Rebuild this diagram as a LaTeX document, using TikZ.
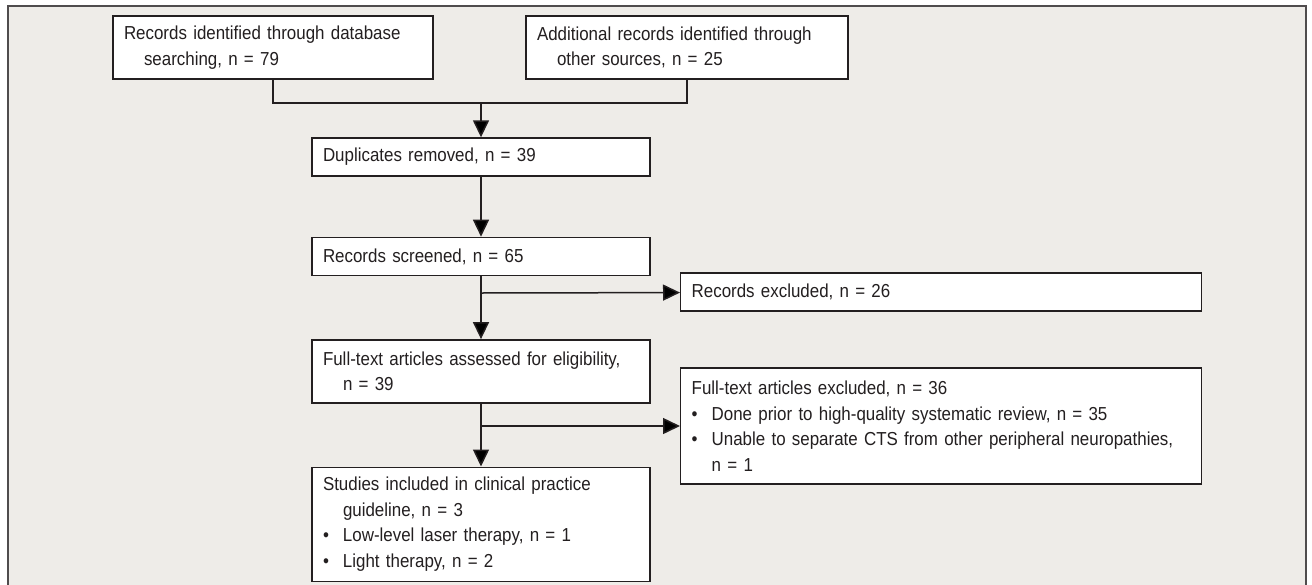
\documentclass[tikz,border=0pt]{standalone}
\usepackage{fontspec}
\setmainfont[FakeStretch=0.9]{Liberation Sans}
\usepackage{tikz}
\usetikzlibrary{arrows.meta,positioning}
\definecolor{panel}{RGB}{238,236,232}
\definecolor{ink}{RGB}{35,31,32}
\newcommand{\ind}{\hspace*{10pt}}
\newcommand{\itm}{\makebox[10pt][l]{\textbullet}}
\tikzset{
    >={Triangle[width=8pt,length=8.5pt]},
    font=\fontsize{9.4}{12.75}\selectfont,
    frame/.style={draw=ink!80, fill=panel, line width=0.8pt},
    box/.style={draw=ink, fill=white, text=ink, line width=0.7pt, align=left, inner xsep=5.5pt, inner ysep=0pt},
    top box/.style={box, text width=149pt, minimum height=31.5pt},
    main box/.style={box, text width=158pt},
    side box/.style={box, text width=249.5pt},
    line/.style={draw=ink, line width=0.75pt}
}
\begin{document}
\begin{tikzpicture}[x=0.5pt, y=-0.5pt]
    \useasboundingbox (0,0) rectangle (1312,584);
    \draw[frame] (8,6) rectangle (1306,592);
    % sources
    \node[top box] (db) at (273,47.5) {Records identified through database\\\ind searching, n = 79};
    \node[top box, text width=150pt] (other) at (687,47.5) {Additional records identified through\\\ind other sources, n = 25};
    % main column
    \node[main box, minimum height=19pt] (dup) at (481,157) {Duplicates removed, n = 39};
    \node[main box, minimum height=19pt] (screen) [below = 30pt of dup] {Records screened, n = 65};
    \node[main box, minimum height=31.5pt] (full) [below = 31.5pt of screen] {Full-text articles assessed for eligibility,\\\ind n = 39};
    \node[main box, minimum height=57pt] (incl) [below = 31.5pt of full] {Studies included in clinical practice\\\ind guideline, n = 3\\\itm Low-level laser therapy, n = 1\\\itm Light therapy, n = 2};
    % exclusions
    \node[side box, minimum height=19pt, anchor=west] (excl1) at (680,292) {Records excluded, n = 26};
    \node[side box, minimum height=58pt, anchor=west] (excl2) at (680,426) {Full-text articles excluded, n = 36\\\itm Done prior to high-quality systematic review, n = 35\\\itm Unable to separate CTS from other peripheral neuropathies,\\\ind n = 1};
    \coordinate (join) at (481,103);
    \coordinate (cut1) at (481,293);
    \coordinate (cut2) at (481,426);
    \path[line]
        (db.south) |- (join) -| (other.south)
        (join) edge [->] (dup)
        (dup) edge [->] (screen)
        (screen) edge [->] (full)
        (cut1) edge [->] (excl1)
        (full) edge [->] (incl)
        (cut2) edge [->] (excl2)
        ;
\end{tikzpicture}
\end{document}
